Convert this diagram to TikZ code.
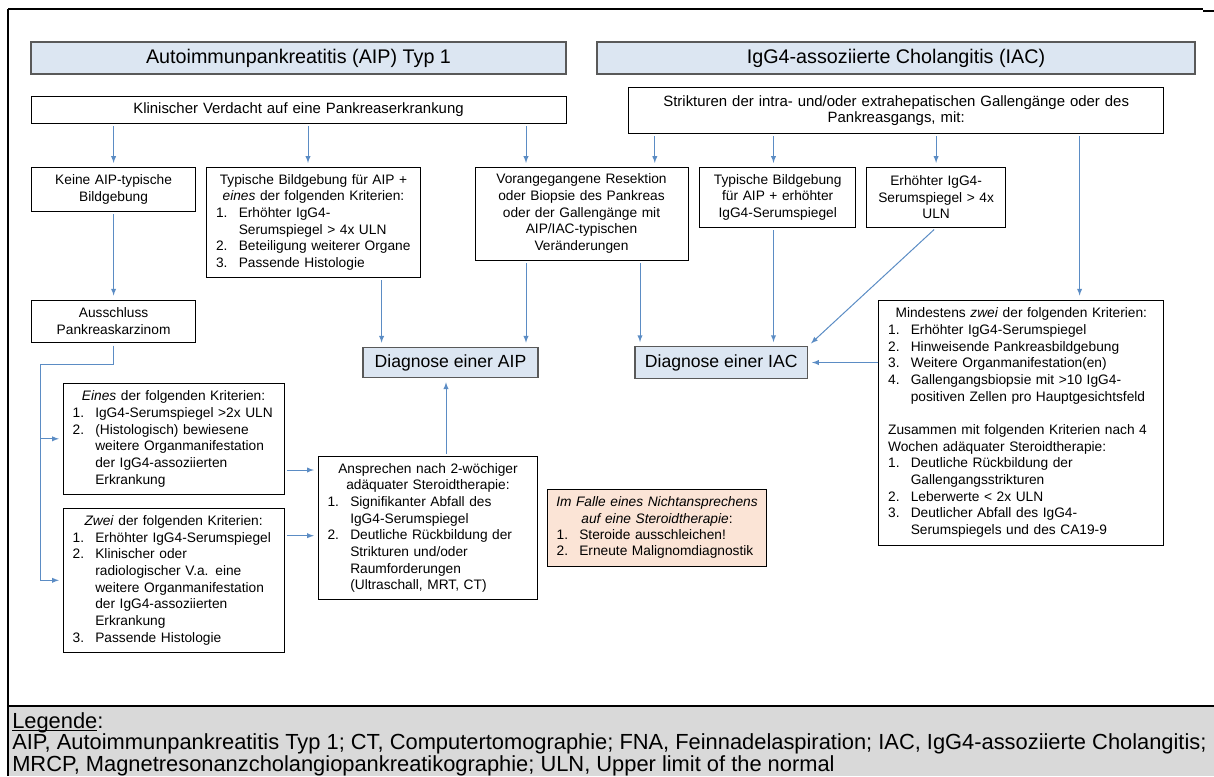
\documentclass[tikz,border=0pt]{standalone}
\usepackage{fontspec}
\setmainfont{Liberation Sans}
\usepackage{tikz}

\definecolor{kopfblau}{RGB}{220,230,242}
\definecolor{rahmengrau}{RGB}{89,89,89}
\definecolor{pfeilblau}{RGB}{91,140,196}
\definecolor{hautrosa}{RGB}{251,228,214}
\definecolor{legendegrau}{RGB}{217,217,217}

\newlength{\strichbreite}
\newcommand{\kastenschrift}{\fontsize{10.3}{12.5}\selectfont}
\newcommand{\punkt}[2]{\makebox[17pt][l]{#1}#2}
\newcommand{\weiter}[1]{\hspace*{17pt}#1}
\newcommand{\mitte}[1]{\makebox[\hsize]{#1}}
\newcommand{\unterstrich}[1]{\settowidth{\strichbreite}{#1}\rlap{\rule[-2.2pt]{\strichbreite}{0.8pt}}#1}

\begin{document}
\begin{tikzpicture}[x=0.75pt, y=-0.75pt,
    kasten/.style={draw=black, line width=0.6pt, fill=white, inner xsep=7pt, inner ysep=0pt, font=\kastenschrift, align=left},
    kopf/.style={draw=rahmengrau, line width=0.9pt, fill=kopfblau, inner sep=0pt, font=\fontsize{14.8}{17}\selectfont},
    diagnose/.style={draw=rahmengrau, line width=0.9pt, fill=kopfblau, inner sep=0pt, font=\fontsize{13.2}{15}\selectfont},
    pfeil/.style={draw=pfeilblau, line width=0.75pt, -latex, shorten <=2pt, shorten >=3pt}]
      \useasboundingbox (0,0) rectangle (1214,776);
      % Rahmen und Legende
      \fill[legendegrau] (8,706) rectangle (1214,776);
      \draw[line width=1pt] (8,9) -- (1203,9);
      \draw[line width=1.5pt] (1203,10.5) -- (1214,10.5);
      \draw[line width=1pt] (8,9) -- (8,776);
      \draw[line width=1.5pt] (8,706) -- (1214,706);
      \node[anchor=north west, inner sep=0pt, align=left, font=\fontsize{16.4}{16.3}\selectfont] (legende) at (12,712) {\unterstrich{Legende}:\\ AIP, Autoimmunpankreatitis Typ 1; CT, Computertomographie; FNA, Feinnadelaspiration; IAC, IgG4-assoziierte Cholangitis;\\ MRCP, Magnetresonanzcholangiopankreatikographie; ULN, Upper limit of the normal};
      % Ueberschriften
      \node[kopf, minimum width=401.25pt, minimum height=24pt] (kopfAIP) at (298.5,58) {Autoimmunpankreatitis (AIP) Typ 1};
      \node[kopf, minimum width=448.5pt, minimum height=24pt] (kopfIAC) at (896,58) {IgG4-assoziierte Cholangitis (IAC)};
      % Einstieg
      \node[kasten, font=\fontsize{11.2}{12}\selectfont, align=center, text width=387.25pt, minimum height=20.25pt] (verdacht) at (298.5,109.5) {Klinischer Verdacht auf eine Pankreaserkrankung};
      \node[kasten, font=\fontsize{11.2}{12}\selectfont, align=center, text width=387.25pt, minimum height=34.2pt] (strikt) at (896.2,110.5) {Strikturen der intra- und/oder extrahepatischen Gallengänge oder des\\ Pankreasgangs, mit:};
      % Kriterien AIP
      \node[kasten, align=center, text width=109pt, minimum height=32.8pt] (keine) at (113.6,189.2) {Keine AIP-typische\\ Bildgebung};
      \node[kasten, text width=146.1pt, minimum height=82.5pt] (typAIP) at (313.5,222.3) {\mitte{Typische Bildgebung für AIP +}\\ \mitte{\textit{eines} der folgenden Kriterien:}\\ \punkt{1.}{Erhöhter IgG4-}\\ \weiter{Serumspiegel > 4x ULN}\\ \punkt{2.}{Beteiligung weiterer Organe}\\ \punkt{3.}{Passende Histologie}};
      \node[kasten, align=center, text width=145.75pt, minimum height=69.5pt] (vorang) at (581.5,213.7) {Vorangegangene Resektion\\ oder Biopsie des Pankreas\\ oder der Gallengänge mit\\ AIP/IAC-typischen\\ Veränderungen};
      \node[kasten, align=center, text width=109pt, minimum height=32pt] (ausschluss) at (113.6,321.3) {Ausschluss\\ Pankreaskarzinom};
      % Kriterien IAC
      \node[kasten, align=center, text width=103pt, minimum height=45pt] (typIAC) at (777.7,197.3) {Typische Bildgebung\\ für AIP + erhöhter\\ IgG4-Serumspiegel};
      \node[kasten, align=center, text width=90.25pt, minimum height=45pt] (igg) at (936.1,197.3) {Erhöhter IgG4-\\ Serumspiegel > 4x\\ ULN};
      \node[kasten, text width=199.75pt, minimum height=183.75pt] (mind) at (1021.3,422.5) {\mitte{Mindestens \textit{zwei} der folgenden Kriterien:}\\ \punkt{1.}{Erhöhter IgG4-Serumspiegel}\\ \punkt{2.}{Hinweisende Pankreasbildgebung}\\ \punkt{3.}{Weitere Organmanifestation(en)}\\ \punkt{4.}{Gallengangsbiopsie mit >10 IgG4-}\\ \weiter{positiven Zellen pro Hauptgesichtsfeld}\\[12.5pt] Zusammen mit folgenden Kriterien nach 4\\ Wochen adäquater Steroidtherapie:\\ \punkt{1.}{Deutliche Rückbildung der}\\ \weiter{Gallengangsstrikturen}\\ \punkt{2.}{Leberwerte < 2x ULN}\\ \punkt{3.}{Deutlicher Abfall des IgG4-}\\ \weiter{Serumspiegels und des CA19-9}};
      % Diagnosen
      \node[diagnose, minimum width=131.25pt, minimum height=22.8pt] (diagAIP) at (450.5,362.5) {Diagnose einer AIP};
      \node[diagnose, minimum width=129.4pt, minimum height=23.7pt] (diagIAC) at (721.2,362.5) {Diagnose einer IAC};
      % Zusatzkriterien AIP
      \node[kasten, text width=151.45pt, minimum height=83.25pt] (eines) at (173.6,438.8) {\mitte{\textit{Eines} der folgenden Kriterien:}\\ \punkt{1.}{IgG4-Serumspiegel >2x ULN}\\ \punkt{2.}{(Histologisch) bewiesene}\\ \weiter{weitere Organmanifestation}\\ \weiter{der IgG4-assoziierten}\\ \weiter{Erkrankung}};
      \node[kasten, text width=151.45pt, minimum height=108pt] (zwei) at (173.6,580.3) {\mitte{\textit{Zwei} der folgenden Kriterien:}\\ \punkt{1.}{Erhöhter IgG4-Serumspiegel}\\ \punkt{2.}{Klinischer oder}\\ \weiter{radiologischer V.a. eine}\\ \weiter{weitere Organmanifestation}\\ \weiter{der IgG4-assoziierten}\\ \weiter{Erkrankung}\\ \punkt{3.}{Passende Histologie}};
      \node[kasten, text width=150.6pt, minimum height=107pt] (anspr) at (428,528) {\mitte{Ansprechen nach 2-wöchiger}\\ \mitte{adäquater Steroidtherapie:}\\ \punkt{1.}{Signifikanter Abfall des}\\ \weiter{IgG4-Serumspiegel}\\ \punkt{2.}{Deutliche Rückbildung der}\\ \weiter{Strikturen und/oder}\\ \weiter{Raumforderungen}\\ \weiter{(Ultraschall, MRT, CT)}};
      \node[kasten, fill=hautrosa, text width=150.55pt, minimum height=57.5pt, font=\fontsize{10.3}{12.2}\selectfont] (nicht) at (657,527.7) {\mitte{\textit{Im Falle eines Nichtansprechens}}\\ \mitte{\textit{auf eine Steroidtherapie}:}\\ \punkt{1.}{Steroide ausschleichen!}\\ \punkt{2.}{Erneute Malignomdiagnostik}};
      % Spalten und Zeilen der Pfeile
      \coordinate (sA) at (308,0);
      \coordinate (sB) at (526,0);
      \coordinate (sC) at (654.8,0);
      \coordinate (sD) at (773.5,0);
      \coordinate (sE) at (1079.6,0);
      \coordinate (sF) at (381.6,0);
      \coordinate (sG) at (640,0);
      \coordinate (sH) at (446,0);
      \coordinate (zA) at (0,470);
      \coordinate (zB) at (0,535.7);
      \coordinate (bus) at (40.7,364);
      % Pfeile
      \draw[pfeil] (verdacht.south -| keine.north) -- (keine.north);
      \draw[pfeil] (verdacht.south -| sA) -- (typAIP.north -| sA);
      \draw[pfeil] (verdacht.south -| sB) -- (vorang.north -| sB);
      \draw[pfeil] (strikt.south -| sC) -- (vorang.north -| sC);
      \draw[pfeil] (strikt.south -| sD) -- (typIAC.north -| sD);
      \draw[pfeil] (strikt.south -| igg.north) -- (igg.north);
      \draw[pfeil] (strikt.south -| sE) -- (mind.north -| sE);
      \draw[pfeil] (keine.south) -- (ausschluss.north);
      \draw[pfeil] (typAIP.south -| sF) -- (diagAIP.north -| sF);
      \draw[pfeil] (vorang.south -| sB) -- (diagAIP.north -| sB);
      \draw[pfeil] (vorang.south -| sG) -- (diagIAC.north -| sG);
      \draw[pfeil] (typIAC.south -| sD) -- (diagIAC.north -| sD);
      \draw[pfeil] (igg.south) -- (diagIAC.north east);
      \draw[pfeil, shorten <=0pt] (mind.west |- diagIAC.east) -- (diagIAC.east);
      \draw[pfeil] (ausschluss.south) |- (bus) |- (zwei.west);
      \draw[pfeil, shorten <=0pt] (bus |- eines.west) -- (eines.west);
      \draw[pfeil] (eines.east |- zA) -- (anspr.west |- zA);
      \draw[pfeil] (zwei.east |- zB) -- (anspr.west |- zB);
      \draw[pfeil] (anspr.north -| sH) -- (diagAIP.south -| sH);
\end{tikzpicture}
\end{document}
